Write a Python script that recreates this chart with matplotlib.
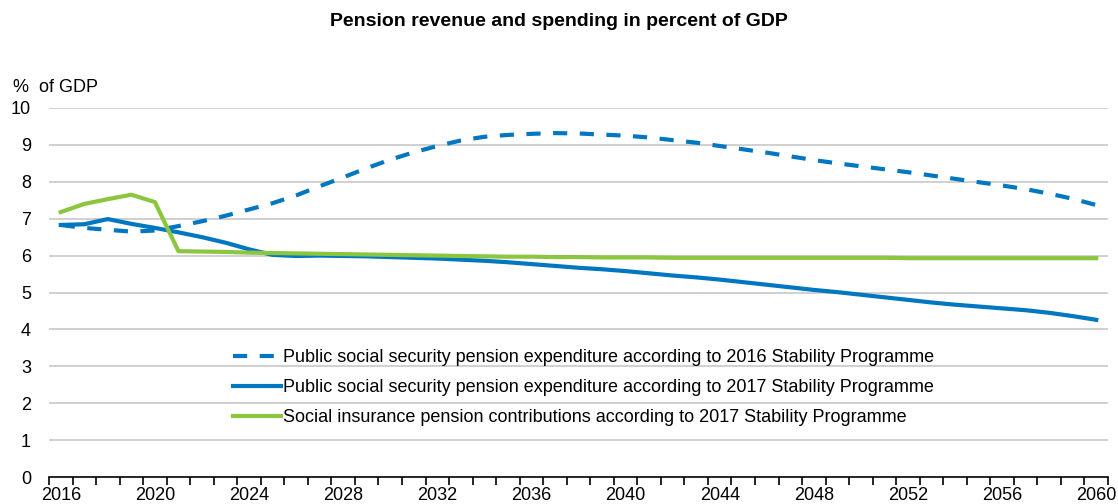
import numpy as np
import matplotlib
matplotlib.use("Agg")
import matplotlib.pyplot as plt

plt.rcParams['font.family'] = ['Liberation Sans', 'DejaVu Sans']

years = list(range(2016, 2061))

spend_2016sp = [6.83, 6.75, 6.70, 6.65, 6.68, 6.80, 6.93, 7.08, 7.25, 7.42,
                7.63, 7.88, 8.12, 8.37, 8.60, 8.80, 8.97, 9.12, 9.22, 9.27,
                9.30, 9.32, 9.31, 9.28, 9.25, 9.20, 9.13, 9.06, 8.97, 8.88,
                8.79, 8.69, 8.59, 8.50, 8.42, 8.34, 8.26, 8.17, 8.08, 7.99,
                7.90, 7.80, 7.68, 7.54, 7.37]

spend_2017sp = [6.83, 6.85, 6.99, 6.86, 6.75, 6.63, 6.50, 6.35, 6.17, 6.02,
                5.99, 6.00, 5.99, 5.98, 5.96, 5.94, 5.92, 5.89, 5.86, 5.82,
                5.77, 5.72, 5.67, 5.63, 5.58, 5.52, 5.46, 5.41, 5.35, 5.28,
                5.21, 5.14, 5.07, 5.01, 4.94, 4.87, 4.80, 4.73, 4.67, 4.62,
                4.57, 4.52, 4.45, 4.36, 4.26]

contrib_2017sp = [7.18, 7.40, 7.53, 7.65, 7.45, 6.12, 6.11, 6.10, 6.08, 6.07,
                  6.06, 6.05, 6.04, 6.03, 6.02, 6.01, 6.00, 5.99, 5.98, 5.97,
                  5.97, 5.96, 5.96, 5.95, 5.95, 5.95, 5.94, 5.94, 5.94, 5.94,
                  5.94, 5.94, 5.94, 5.94, 5.94, 5.94, 5.93, 5.93, 5.93, 5.93,
                  5.93, 5.93, 5.93, 5.93, 5.93]

labels = ["Public social security pension expenditure according to 2016 Stability Programme",
          "Public social security pension expenditure according to 2017 Stability Programme",
          "Social insurance pension contributions according to 2017 Stability Programme"]

blue = "#0077C0"
green = "#8CC63F"
fs = 13

fig = plt.figure(figsize=(11.18, 5.04), dpi=100)
ax = fig.add_axes([49/1118, 1 - 477/504, (1108 - 49)/1118, (477 - 108)/504])

x = np.arange(len(years))
ax.plot(x, spend_2016sp, color=blue, lw=3, ls=(0, (3.4, 3.0)), label=labels[0])
ax.plot(x, spend_2017sp, color=blue, lw=3, label=labels[1])
ax.plot(x, contrib_2017sp, color=green, lw=3, label=labels[2])

ax.set_xlim(-0.5, len(years) - 0.5)
ax.set_ylim(0, 10)
ax.set_yticks(range(0, 11))
ax.set_yticklabels([str(v) for v in range(0, 11)], fontsize=fs)
for v in range(1, 11):
    ax.axhline(v, color="#C8C8C8", lw=1.2, zorder=0)

# year labels every 4 years, tick marks at category boundaries
ax.set_xticks(x[::4])
ax.set_xticklabels([str(y) for y in years[::4]], fontsize=fs)
ax.set_xticks(np.arange(-0.5, len(years)), minor=True)
ax.tick_params(axis="x", which="major", length=0, pad=7)
ax.tick_params(axis="x", which="minor", length=6, width=1.2, direction="out", color="black")
ax.tick_params(axis="y", length=0, pad=13)

for s in ["top", "right", "left"]:
    ax.spines[s].set_visible(False)
ax.spines["bottom"].set_linewidth(1.2)
ax.spines["bottom"].set_color("black")

fig.text(13/1118, 1 - 87/504, "%  of GDP", fontsize=fs, va="center", ha="left")
fig.text(0.5, 1 - 22/504, "Pension revenue and spending in percent of GDP",
         fontsize=14, fontweight="bold", ha="center", va="center")

ax.legend(loc="upper left", bbox_to_anchor=(177/1059, 1 - (342 - 108)/369),
          frameon=False, fontsize=fs, handlelength=2.65, handletextpad=0.12,
          labelspacing=0.72, borderaxespad=0)

fig.savefig("out.png", dpi=100)
